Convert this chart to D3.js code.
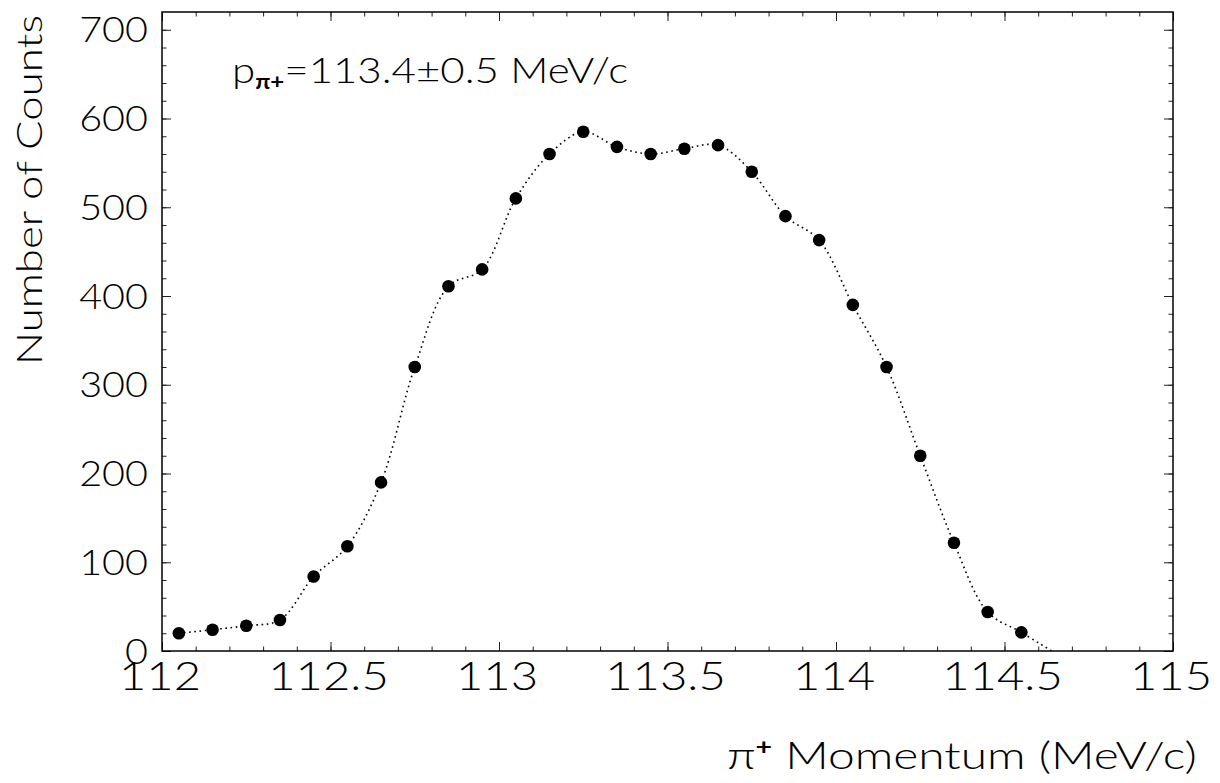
<!DOCTYPE html>
<html><head><meta charset="utf-8">
<script src="https://cdn.jsdelivr.net/npm/d3@7"></script>
<style>
html,body{margin:0;padding:0;background:#fff;}
svg text{font-family:"Lato","Liberation Sans",sans-serif;font-weight:300;fill:#000;}
</style></head>
<body><svg id="c" width="1220" height="783"></svg>
<script>
// ---- data ----
const momentum = [112.05,112.15,112.25,112.35,112.45,112.55,112.65,112.75,112.85,112.95,
                  113.05,113.15,113.25,113.35,113.45,113.55,113.65,113.75,113.85,113.95,
                  114.05,114.15,114.25,114.35,114.45,114.55];
const counts = [20,24,28.5,35,84,118,190,320,411,430,
                510,560,585,568,560,566,570,540,490,463,
                390,320,220,122,44,21];
const curveTailX = [114.64];
const curveTailY = [0];
const xTickLabels = ["112","112.5","113","113.5","114","114.5","115"];
const xTickValues = [112,112.5,113,113.5,114,114.5,115];
const yTickValues = [0,100,200,300,400,500,600,700];
const yTickLabels = ["0","100","200","300","400","500","600","700"];
const xTitle = "Momentum (MeV/c)";
const yTitle = "Number of Counts";

// ---- layout ----
const L=162, R=1173, T=12, B=651;
const svg=d3.select("#c");
const x=d3.scaleLinear().domain([112,115]).range([L,R]);
const y=d3.scaleLinear().domain([0,720]).range([B,T]);

const minorX=d3.range(112,115.0001,0.1).map(v=>+v.toFixed(2));
const minorY=d3.range(0,720,20);

function widen(sel,f){
  sel.each(function(){
    const w=this.getComputedTextLength();
    this.setAttribute("textLength",(w*f).toFixed(1));
    this.setAttribute("lengthAdjust","spacingAndGlyphs");
  });
}

function tickGroup(axisFn, scale, vals, size, tr){
  const g=svg.append("g").attr("transform",tr)
    .call(axisFn(scale).tickValues(vals).tickSize(size).tickFormat(""));
  g.select(".domain").remove();
  g.selectAll(".tick line").attr("stroke","#222").attr("stroke-width",1);
}
tickGroup(d3.axisBottom,x,minorX,-4.5,`translate(0,${B})`);
tickGroup(d3.axisBottom,x,xTickValues,-9,`translate(0,${B})`);
tickGroup(d3.axisTop,x,minorX,-4.5,`translate(0,${T})`);
tickGroup(d3.axisTop,x,xTickValues,-9,`translate(0,${T})`);
tickGroup(d3.axisLeft,y,minorY,-4.5,`translate(${L},0)`);
tickGroup(d3.axisLeft,y,yTickValues,-9,`translate(${L},0)`);
tickGroup(d3.axisRight,y,minorY,-4.5,`translate(${R},0)`);
tickGroup(d3.axisRight,y,yTickValues,-9,`translate(${R},0)`);

// frame
svg.append("rect").attr("x",L).attr("y",T).attr("width",R-L).attr("height",B-T)
  .attr("fill","none").attr("stroke","#000").attr("stroke-width",1.5);

// tick labels
const xl=svg.append("g").selectAll("text").data(xTickValues).join("text")
  .attr("x",d=>x(d)-2).attr("y",690).attr("text-anchor","middle")
  .attr("font-size",40).text((d,i)=>xTickLabels[i]);
widen(xl,1.18);
const yl=svg.append("g").selectAll("text").data(yTickValues).join("text")
  .attr("x",148).attr("y",d=>y(d)).attr("dy","0.36em").attr("text-anchor","end")
  .attr("font-size",35).text((d,i)=>yTickLabels[i]);
widen(yl,1.13);

// axis titles
const xt=svg.append("text").attr("x",1197).attr("y",769).attr("text-anchor","end").attr("font-size",37);
xt.append("tspan").text("π");
xt.append("tspan").attr("font-size",22).attr("font-weight",700).attr("dy",-14).text("+");
xt.append("tspan").attr("dy",14).text(" "+xTitle);
widen(xt,470/xt.node().getComputedTextLength());
const yt=svg.append("text").attr("transform","translate(42,365) rotate(-90)")
  .attr("text-anchor","start").attr("font-size",35).text(yTitle);
widen(yt,350/yt.node().getComputedTextLength());

// annotation
const an=svg.append("text").attr("x",232).attr("y",83).attr("font-size",35);
an.append("tspan").text("p");
an.append("tspan").attr("font-size",20).attr("font-weight",700).attr("dy",6).text("π+");
an.append("tspan").attr("dy",-6).text("=113.4±0.5 MeV/c");
widen(an,396/an.node().getComputedTextLength());

// clip
svg.append("clipPath").attr("id","clip").append("rect")
  .attr("x",L).attr("y",T).attr("width",R-L).attr("height",B-T);

// curve
const pts=momentum.map((m,i)=>[m,counts[i]]).concat(curveTailX.map((m,i)=>[m,curveTailY[i]]));
const line=d3.line().x(d=>x(d[0])).y(d=>y(d[1])).curve(d3.curveCatmullRom.alpha(0.5));
svg.append("path").attr("clip-path","url(#clip)").attr("d",line(pts))
  .attr("fill","none").attr("stroke","#000").attr("stroke-width",1.6)
  .attr("stroke-dasharray","1.6,3.6");

// markers
svg.append("g").selectAll("circle").data(momentum).join("circle")
  .attr("cx",d=>x(d)).attr("cy",(d,i)=>y(counts[i])).attr("r",6.3).attr("fill","#000");
</script></body></html>
